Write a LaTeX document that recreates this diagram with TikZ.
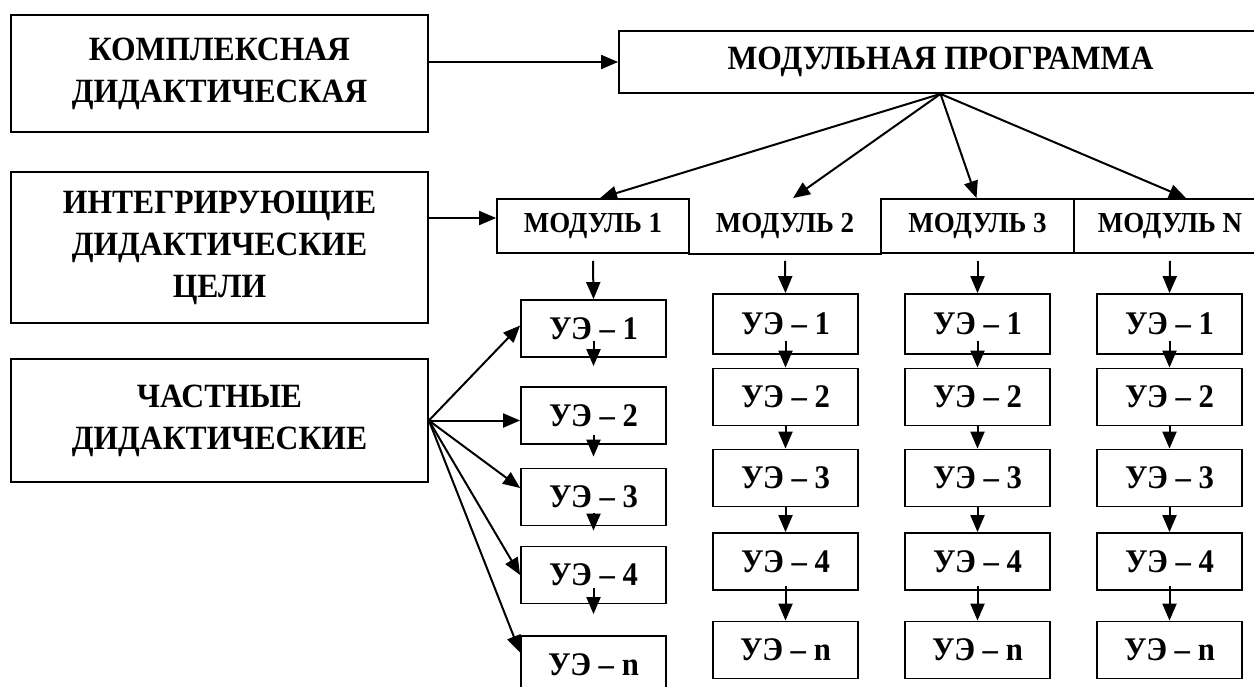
\documentclass[tikz,border=0pt]{standalone}
\usepackage{fontspec}
\setmainfont{Liberation Serif}
\newfontfamily\narrowserif[FakeStretch=0.93]{Liberation Serif}
\usetikzlibrary{arrows.meta}
\tikzset{
  goalbox/.style={draw, line width=1.8pt, inner sep=0pt, align=center, minimum width=417pt,
    font=\narrowserif\bfseries\fontsize{34}{42}\selectfont},
  modbox/.style={line width=1.8pt, inner sep=0pt, minimum width=192pt, minimum height=54pt,
    font=\narrowserif\bfseries\fontsize{29}{30}\selectfont},
  uebox/.style={draw, line width=1.8pt, inner sep=0pt, minimum width=145pt, minimum height=57pt,
    font=\narrowserif\bfseries\fontsize{33}{36}\selectfont},
  arr/.style={line width=2pt, -{Triangle[length=17pt,width=14pt]}}
}
\begin{document}
\begin{tikzpicture}[x=1pt,y=-1pt]
		\useasboundingbox (0,0) rectangle (1254,686);
		% the goals on the left
		\node[goalbox, minimum height=117pt] (kompl) at (219.5,73.5) {КОМПЛЕКСНАЯ\\ДИДАКТИЧЕСКАЯ};
		\node[goalbox, minimum height=151pt] (integr) at (219.5,247.5) {ИНТЕГРИРУЮЩИЕ\\ДИДАКТИЧЕСКИЕ\\ЦЕЛИ};
		\node[goalbox, minimum height=123pt] (chast) at (219.5,420.5) {ЧАСТНЫЕ\\ДИДАКТИЧЕСКИЕ};
		% the programme, cut by the right edge
		\node[goalbox, minimum width=643pt, minimum height=62pt] (prog) at (940.5,62) {МОДУЛЬНАЯ ПРОГРАММА};
		% row of modules (module 2 has no top line)
		\node[modbox, draw] (m1) at (593,226) {МОДУЛЬ 1};
		\node[modbox] (m2) at (785,226) {МОДУЛЬ 2};
		\node[modbox, draw, minimum width=193pt] (m3) at (977.5,226) {МОДУЛЬ 3};
		\node[modbox, draw] (mN) at (1170,226) {МОДУЛЬ N};
		\draw[line width=1.8pt] (m2.south west) -- (m2.south east);
		% learning elements of module 1
		\node[uebox] (a1) at (593.5,328.5) {УЭ – 1};
		\node[uebox] (a2) at (593.5,415.5) {УЭ – 2};
		\node[uebox] (a3) at (593.5,497) {УЭ – 3};
		\node[uebox] (a4) at (593.5,575) {УЭ – 4};
		\node[uebox] (an) at (593.5,664.5) {УЭ – n};
		% learning elements of modules 2, 3 and N
		\foreach \c/\x in {b/785.5, c/977.5, d/1169.5} {
			\node[uebox, minimum height=60pt] (\c1) at (\x,324) {УЭ – 1};
			\node[uebox] (\c2) at (\x,397) {УЭ – 2};
			\node[uebox] (\c3) at (\x,478) {УЭ – 3};
			\node[uebox] (\c4) at (\x,561.5) {УЭ – 4};
			\node[uebox] (\c5) at (\x,650) {УЭ – n};
			\draw[arr] ([yshift=14pt]\c1.south) -- (\c2.north);
			\draw[arr] (\c2.south) -- (\c3.north);
			\draw[arr] (\c3.south) -- (\c4.north);
			\draw[arr] ([yshift=5pt]\c4.south) -- (\c5.north);
		}
		% goals to the programme and to module 1
		\draw[arr] (prog.west -| kompl.east) -- (prog.west);
		\draw[arr] ([yshift=8pt]m1.west -| integr.east) -- ([yshift=8pt]m1.west);
		% programme to the modules
		\draw[arr] (prog.south) -- ([xshift=7pt]m1.north);
		\draw[arr] (prog.south) -- ([xshift=8pt]m2.north);
		\draw[arr] (prog.south) -- ([xshift=-1pt]m3.north);
		\draw[arr] (prog.south) -- ([xshift=16pt]mN.north);
		% modules down to their first elements
		\draw[arr] ([yshift=-7pt]m1.south) -- (a1.north);
		\draw[arr] ([yshift=-7pt]m2.south) -- (b1.north);
		\draw[arr] ([yshift=-7pt]m3.south) -- (c1.north);
		\draw[arr] ([yshift=-7pt]mN.south) -- (d1.north);
		% the fan of particular goals
		\draw[arr] (chast.east) -- ([yshift=3pt]a1.west);
		\draw[arr] (chast.east) -- (chast.east -| a2.west);
		\draw[arr] (chast.east) -- ([yshift=9pt]a3.west);
		\draw[arr] (chast.east) -- (a4.west);
		\draw[arr] (chast.east) -- ([yshift=12pt]an.west);
		% chain inside module 1
		\draw[arr] ([yshift=17pt]a1.south) -- ([yshift=20pt]a2.north);
		\draw[arr] ([yshift=10pt]a2.south) -- ([yshift=11pt]a3.north);
		\draw[arr] ([yshift=13pt]a3.south) -- ([yshift=15pt]a4.north);
		\draw[arr] ([yshift=16pt]a4.south) -- ([yshift=21pt]an.north);
	\end{tikzpicture}
\end{document}
